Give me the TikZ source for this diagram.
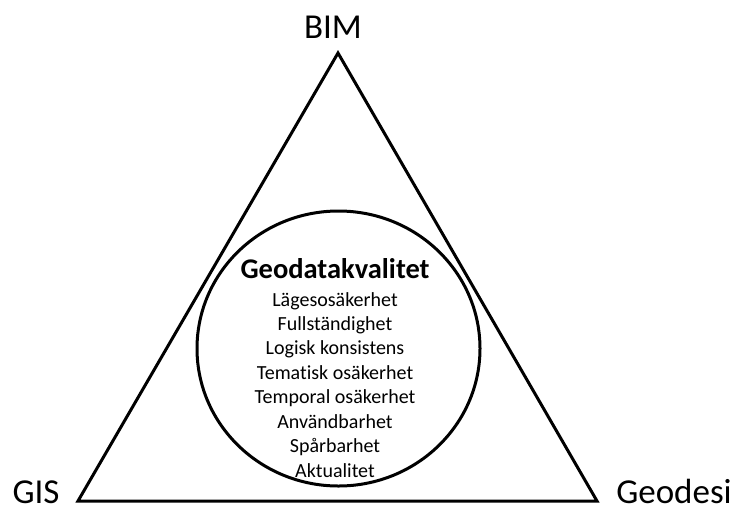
\documentclass[tikz,border=0pt]{standalone}
\usepackage{fontspec}
\setmainfont[Ligatures=NoCommon]{Carlito}
\usetikzlibrary{shapes.geometric}
\begin{document}
\begin{tikzpicture}[x=1pt,y=-1pt,
  edge/.style={line width=3pt,line join=miter},
  corner/.style={font=\fontsize{35}{40}\selectfont,anchor=base,inner sep=0pt},
  title/.style={font=\fontsize{28.5}{32}\selectfont\bfseries,anchor=base},
  item/.style={font=\fontsize{20}{24}\selectfont,anchor=base}]
\useasboundingbox (0,0) rectangle (738,512);
\coordinate (top) at (338,53);
\coordinate (bl) at (78,501);
\coordinate (br) at (597,501);
\draw[edge] (top) -- (br) -- (bl) -- cycle;
\node[draw,line width=3pt,ellipse,minimum width=283pt,minimum height=275pt,inner sep=0pt] (circ) at (338.5,348.5) {};
\node[corner] (bim) at (333,38) {BIM};
\node[corner] (gis) at (36,503.5) {GIS};
\node[corner] (geo) at (674,503.5) {Geodesi};
\node[title] (gdk) at (335,278) {Geodatakvalitet};
\foreach \t [count=\i] in {Lägesosäkerhet,Fullständighet,Logisk konsistens,Tematisk osäkerhet,Temporal osäkerhet,Användbarhet,Spårbarhet,Aktualitet}{
  \node[item] (it\i) at (335,{306+24.45*(\i-1)}) {\t};
}
\end{tikzpicture}
\end{document}
